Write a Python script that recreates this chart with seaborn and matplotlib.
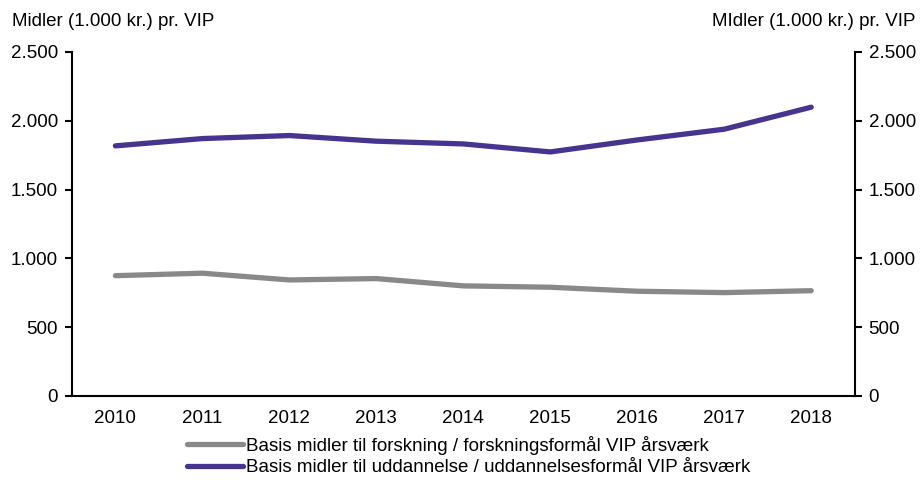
import matplotlib
matplotlib.use("Agg")
import matplotlib.pyplot as plt
import matplotlib.ticker as mticker
import numpy as np
import pandas as pd
import seaborn as sns

years = ["2010", "2011", "2012", "2013", "2014", "2015", "2016", "2017", "2018"]
forskning = [874, 892, 843, 853, 800, 790, 761, 751, 765]
uddannelse = [1817, 1870, 1892, 1851, 1831, 1773, 1860, 1938, 2098]
series_names = [
    "Basis midler til forskning / forskningsformål VIP årsværk",
    "Basis midler til uddannelse / uddannelsesformål VIP årsværk",
]
left_label = "Midler (1.000 kr.) pr. VIP"
right_label = "MIdler (1.000 kr.) pr. VIP"
y_ticks = [0, 500, 1000, 1500, 2000, 2500]

df = pd.DataFrame({
    "year": years * 2,
    "value": forskning + uddannelse,
    "serie": [series_names[0]] * len(years) + [series_names[1]] * len(years),
})

sns.set_theme(style="white")
plt.rcParams["font.family"] = ["Liberation Sans", "DejaVu Sans"]
plt.rcParams.update({"text.color": "black", "xtick.color": "black",
                     "ytick.color": "black", "axes.labelcolor": "black"})
FS = 13.5

fig = plt.figure(figsize=(9.22, 4.8), dpi=100)
ax = fig.add_axes([0.078, 0.175, 0.849, 0.717])

palette = {series_names[0]: "#898989", series_names[1]: "#46348f"}
sns.lineplot(data=df, x="year", y="value", hue="serie", palette=palette,
             linewidth=3.8, ax=ax, legend=False, sort=False)
for ln in ax.lines:
    ln.set_solid_capstyle("round")

ax.set_xlim(-0.5, len(years) - 0.5)
ax.set_ylim(0, 2500)
ax.set_xlabel("")
ax.set_ylabel("")
ax.set_xticks(range(len(years)))
ax.set_xticklabels(years, fontsize=FS)
ax.set_xticks(np.arange(-0.5, len(years), 1.0), minor=True)
ax.tick_params(axis="x", which="major", length=0, pad=10)
ax.tick_params(axis="x", which="minor", length=5, width=1.5, direction="out", color="black")
ax.set_yticks(y_ticks)
fmt = mticker.FuncFormatter(lambda v, p: f"{int(v):,}".replace(",", "."))
ax.yaxis.set_major_formatter(fmt)
ax.tick_params(axis="y", length=5, width=1.5, direction="out", labelsize=FS, pad=5, color="black")

ax2 = ax.twinx()
ax2.set_ylim(0, 2500)
ax2.set_yticks(y_ticks)
ax2.yaxis.set_major_formatter(fmt)
ax2.tick_params(axis="y", length=5, width=1.5, direction="out", labelsize=FS, pad=5, color="black")

for a in (ax, ax2):
    a.spines["top"].set_visible(False)
    for s in ("left", "right", "bottom"):
        a.spines[s].set_color("black")
        a.spines[s].set_linewidth(1.5)
    a.grid(False)
ax.spines["right"].set_visible(False)
ax2.spines["left"].set_visible(False)
ax2.spines["bottom"].set_visible(False)

fig.text(0.013, 0.955, left_label, fontsize=FS, ha="left", va="center", color="black")
fig.text(0.993, 0.955, right_label, fontsize=FS, ha="right", va="center", color="black")

handles = [plt.Line2D([], [], color=palette[n], linewidth=3.8, solid_capstyle="round")
           for n in series_names]
fig.legend(handles, series_names, loc="upper center", bbox_to_anchor=(0.508, 0.112),
           ncol=1, frameon=False, fontsize=FS, handlelength=3.0, handletextpad=0.15,
           labelspacing=0.25, borderpad=0)

fig.savefig("out.png", dpi=100)
